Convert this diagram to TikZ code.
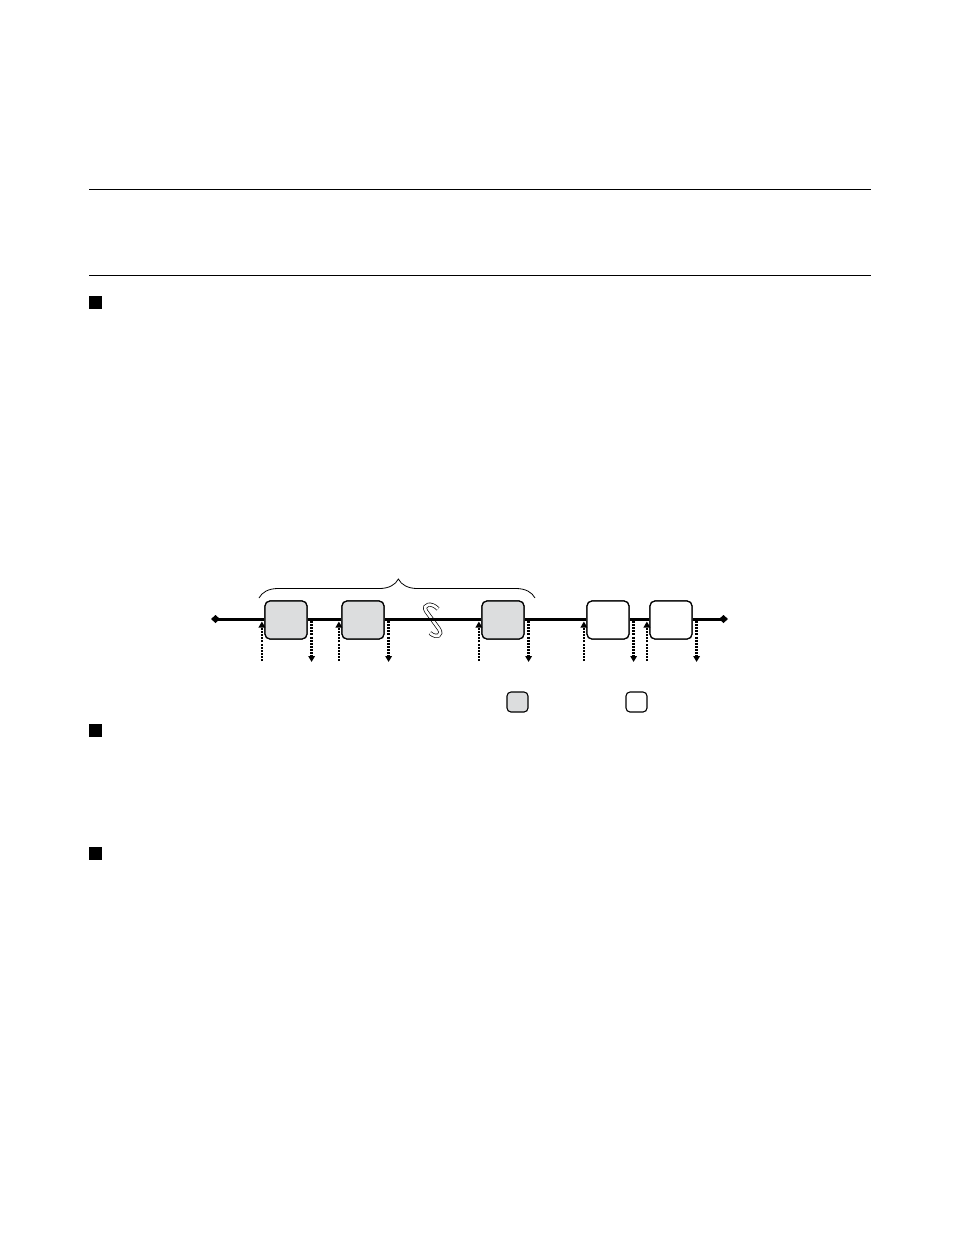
\documentclass[tikz,border=0pt]{standalone}
\usetikzlibrary{arrows.meta,decorations.pathreplacing,calc}
\definecolor{boxgray}{HTML}{DCDDDE}
\begin{document}
\begin{tikzpicture}[x=1pt,y=-1pt,
  rule/.style={line width=1pt},
  bullet/.style={fill=black},
  blk/.style={draw, line width=1.2pt, rounded corners=5pt, minimum width=42pt, minimum height=38pt, inner sep=0pt},
  gblk/.style={blk, fill=boxgray},
  wblk/.style={blk, fill=white},
  lgblk/.style={draw, line width=1.1pt, rounded corners=4pt, minimum width=21pt, minimum height=20pt, inner sep=0pt},
  mainline/.style={line width=3pt},
  dotarr/.style={line width=2.8pt, dash pattern=on 2pt off 1.1pt, -{Triangle[length=6pt,width=6.5pt]}},
]
\useasboundingbox (0,0) rectangle (954,1235);
% rules
\draw[rule] (89,189) -- (871,189);
\draw[rule] (89,275) -- (871,275);
% section squares
\fill[bullet] (89,296) rectangle (102,309);
\fill[bullet] (89,724) rectangle (102,737);
\fill[bullet] (89,847) rectangle (102,860);
% boxes
\node[gblk] (b1) at (286,620) {};
\node[gblk] (b2) at (363,620) {};
\node[gblk] (b3) at (503,620) {};
\node[wblk] (b4) at (608,620) {};
\node[wblk] (b5) at (671,620) {};
\coordinate (L) at (211,619);
\coordinate (R) at (728,619);
% squiggle
\draw[line width=0.7pt, double=white, double distance=2.6pt]
  (438,609) .. controls (432,602) and (422,604) .. (426,611) -- (439,629) .. controls (443,635) and (437,639) .. (430,633);
% main line segments
\draw[mainline, {Diamond[length=9pt,width=8pt]}-] (L) -- (b1.west |- L);
\draw[mainline] (b1.east |- L) -- (b2.west |- L);
\draw[mainline] (b2.east |- L) -- (b3.west |- L);
\draw[mainline] (b3.east |- L) -- (b4.west |- L);
\draw[mainline] (b4.east |- L) -- (b5.west |- L);
\draw[mainline, -{Diamond[length=9pt,width=8pt]}] (b5.east |- L) -- (R);
% redraw boxes on top
\node[gblk] at (b1) {};
\node[gblk] at (b2) {};
\node[gblk] at (b3) {};
\node[wblk] at (b4) {};
\node[wblk] at (b5) {};
% dotted arrows
\foreach \b in {b1,b2,b3,b4,b5}{
  \draw[dotarr] ([xshift=-2.5pt]\b.west |- 0,661) -- ([xshift=-2.5pt]\b.west |- 0,621.5);
  \draw[dotarr] ([xshift=4pt]\b.east |- 0,621) -- ([xshift=4pt]\b.east |- 0,662);
}
% brace
\coordinate (bl) at (259,598);
\coordinate (br) at (535,598);
\draw[line width=0.8pt, decorate, decoration={brace, amplitude=19pt, aspect=0.505}] (bl) -- (br);
% legend
\node[lgblk, fill=boxgray] (lg) at (517.5,702) {};
\node[lgblk, fill=white] (lw) at (636.5,702) {};
\end{tikzpicture}
\end{document}
